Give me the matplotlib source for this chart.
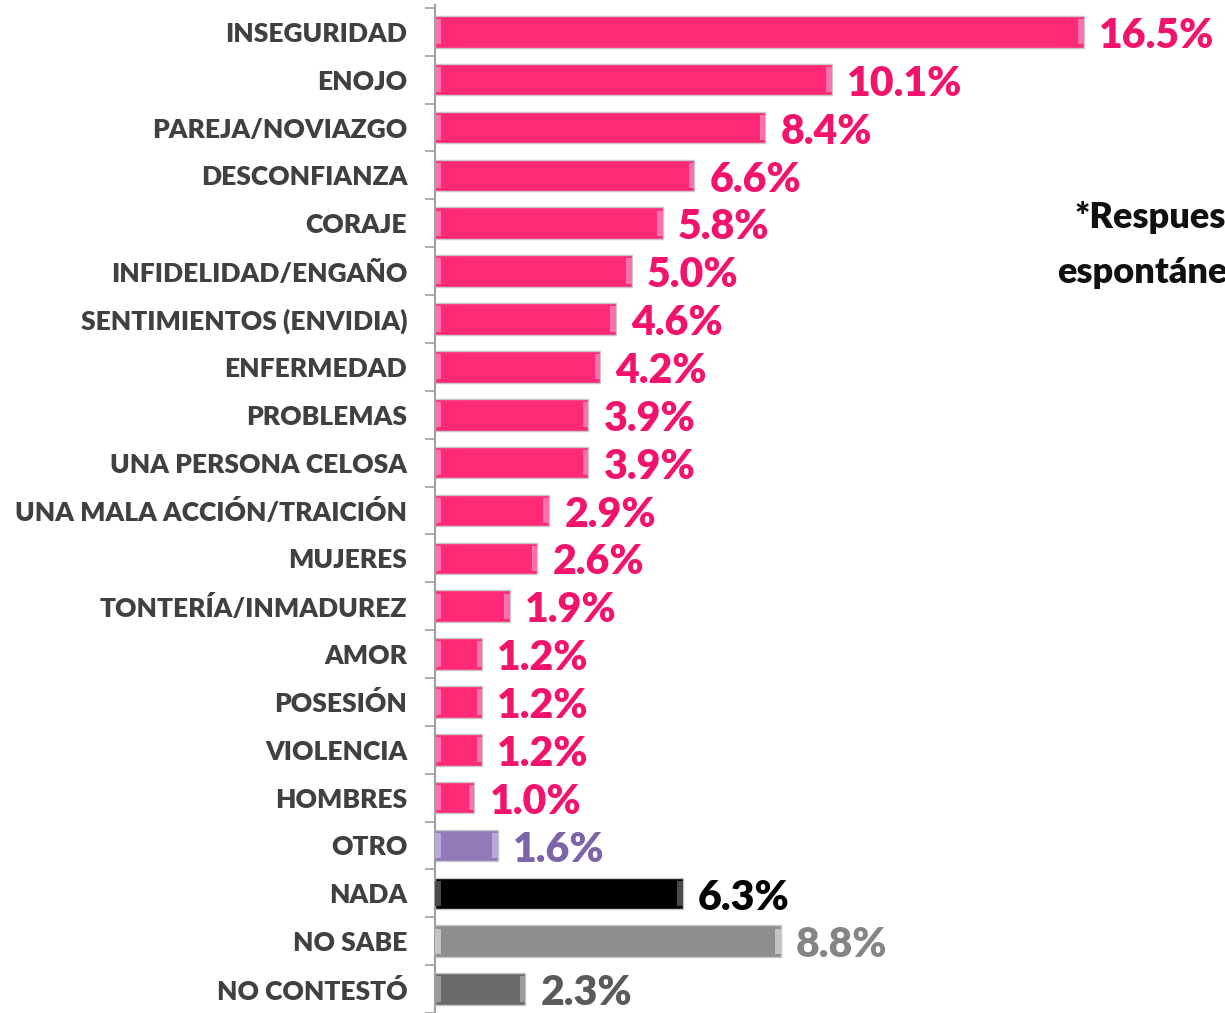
import matplotlib.pyplot as plt
import numpy as np

categories = [
    "INSEGURIDAD", "ENOJO", "PAREJA/NOVIAZGO", "DESCONFIANZA", "CORAJE",
    "INFIDELIDAD/ENGAÑO", "SENTIMIENTOS (ENVIDIA)", "ENFERMEDAD", "PROBLEMAS",
    "UNA PERSONA CELOSA", "UNA MALA ACCIÓN/TRAICIÓN", "MUJERES",
    "TONTERÍA/INMADUREZ", "AMOR", "POSESIÓN", "VIOLENCIA", "HOMBRES",
    "OTRO", "NADA", "NO SABE", "NO CONTESTÓ",
]
values = [16.5, 10.1, 8.4, 6.6, 5.8, 5.0, 4.6, 4.2, 3.9, 3.9, 2.9, 2.6,
          1.9, 1.2, 1.2, 1.2, 1.0, 1.6, 6.3, 8.8, 2.3]

PINK, PINK_TXT = "#FF2A77", "#F2136C"
bar_colors = [PINK] * 17 + ["#9479B9", "#000000", "#8E8E8E", "#6A6A6A"]
end_colors = ["#FF70AE"] * 17 + ["#BBA8DA", "#4A4A4A", "#C4C4C4", "#9A9A9A"]
text_colors = [PINK_TXT] * 17 + ["#7D63A8", "#000000", "#858585", "#5A5A5A"]

plt.rcParams["font.family"] = ["Lato", "DejaVu Sans"]

fig = plt.figure(figsize=(12.25, 10.13), dpi=100)

ax = fig.add_axes([435 / 1225, 0.0, 1 - 435 / 1225, 1 - 5 / 1013])
ax.patch.set_alpha(0)

y = np.arange(len(categories))
h = 0.66
ax.barh(y, values, height=h, color=bar_colors, edgecolor="#C8C8C8", linewidth=1, zorder=2)
# bevelled ends
cap = 0.14
ax.barh(y, [cap] * len(values), height=h * 0.8, color=end_colors, linewidth=0, zorder=3)
ax.barh(y, [cap] * len(values), left=np.array(values) - cap, height=h * 0.8,
        color=end_colors, linewidth=0, zorder=3)

for yi, v, c in zip(y, values, text_colors):
    ax.annotate(f"{v:.1f}%", (v, yi), xytext=(11, -3), textcoords="offset points",
                ha="left", va="center", fontsize=29.5, fontweight="heavy", color=c)

ax.set_xlim(0, 20.1)
ax.set_ylim(20 + 18 / 48.15, -0.56)
ax.set_yticks(y)
ax.set_yticklabels(categories, fontsize=19, fontweight="heavy", color="#404040")
ax.set_yticks(np.arange(-0.5, len(categories), 1), minor=True)
ax.tick_params(axis="y", which="major", length=0, pad=20)
ax.tick_params(axis="y", which="minor", length=7, width=1.2, color="#A0A0A0", direction="out")
ax.set_xticks([])
for side in ["top", "right", "bottom"]:
    ax.spines[side].set_visible(False)
ax.spines["left"].set_color("#A0A0A0")
ax.spines["left"].set_linewidth(1.5)

# note runs off the right edge, as in the source slide
fig.text(1075 / 1225, 1 - 218 / 1013, "*Respuesta", fontsize=26, fontweight="heavy",
         color="#111111", ha="left", va="center")
fig.text(1057 / 1225, 1 - 272 / 1013, "espontánea", fontsize=26, fontweight="heavy",
         color="#111111", ha="left", va="center")

fig.savefig("out.png", dpi=100)
